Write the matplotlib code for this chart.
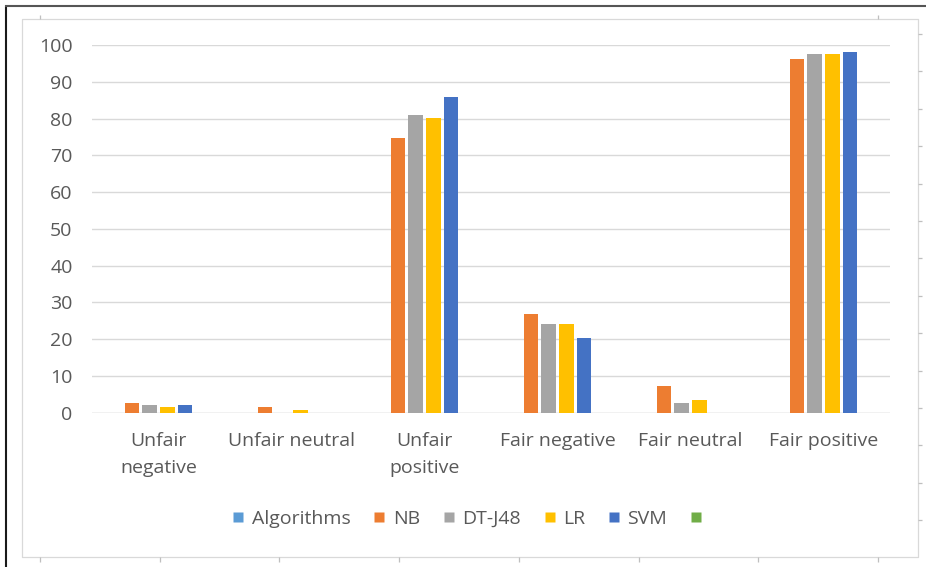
import matplotlib
matplotlib.use('Agg')
import matplotlib.pyplot as plt
from matplotlib.lines import Line2D
import numpy as np

plt.rcParams['font.family'] = ['Open Sans', 'DejaVu Sans']

categories = ['Unfair\nnegative', 'Unfair neutral', 'Unfair\npositive',
              'Fair negative', 'Fair neutral', 'Fair positive']
series_names = ['Algorithms', 'NB', 'DT-J48', 'LR', 'SVM', '']
algorithms = [0, 0, 0, 0, 0, 0]
nb = [2.6, 1.6, 74.7, 26.9, 7.2, 96.2]
dt_j48 = [2.1, 0, 80.9, 24.0, 2.6, 97.6]
lr = [1.55, 0.65, 80.2, 24.0, 3.5, 97.6]
svm = [2.1, 0, 85.9, 20.3, 0, 98.1]
blank = [0, 0, 0, 0, 0, 0]
colors = ['#5B9BD5', '#ED7D31', '#A5A5A5', '#FFC000', '#4472C4', '#70AD47']

W, H = 926, 567
fig = plt.figure(figsize=(W / 100, H / 100), dpi=100)


def fx(x):
    return x / W


def fy(y):
    return 1 - y / H


def fline(xs, ys, color, lw):
    fig.add_artist(Line2D([fx(v) for v in xs], [fy(v) for v in ys],
                          transform=fig.transFigure, color=color, lw=lw,
                          solid_capstyle='butt'))


# outer frame and chart area border
fline([5.5, 5.5], [5, 567], '#1a1a1a', 1.5)
fline([5, 926], [5.5, 5.5], '#555555', 1.5)
fline([22, 918, 918, 22, 22], [19, 19, 557, 557, 19], '#D9D9D9', 0.9)
for x in [40, 878]:
    fline([x, x], [15, 19], '#BFBFBF', 0.9)
for k in range(8):
    x = 40 + k * 119.7
    fline([x, x], [557, 562], '#BFBFBF', 0.9)
for k in range(14):
    y = 34 + k * 37.4
    fline([918, 922], [y, y], '#BFBFBF', 0.9)

ax = fig.add_axes([fx(92), fy(412.7), fx(890) - fx(92), fy(45) - fy(412.7)])

data = [algorithms, nb, dt_j48, lr, svm, blank]
x = np.arange(len(categories))
step = 0.132
bw = 0.11
for i, (vals, c) in enumerate(zip(data, colors)):
    ax.bar(x + (i - 2.5) * step, vals, width=bw, color=c, edgecolor='none',
           zorder=3)

ax.set_xlim(-0.5, len(categories) - 0.5)
ax.set_ylim(0, 100)
ax.set_yticks(range(0, 101, 10))
ax.yaxis.grid(True, color='#D9D9D9', lw=1.0, zorder=0)
ax.set_axisbelow(True)
for s in ax.spines.values():
    s.set_visible(False)
ax.axhline(0, color='#D9D9D9', lw=1.0, zorder=1)

ax.set_xticks(x)
ax.set_xticklabels(categories)
ax.tick_params(axis='both', length=0, labelsize=14, labelcolor='#595959')
ax.tick_params(axis='y', pad=14)
ax.tick_params(axis='x', pad=14)
for t in ax.get_xticklabels():
    t.set_linespacing(1.6)

handles = [Line2D([], [], marker='s', linestyle='none', markersize=7.5,
                  markerfacecolor=c, markeredgecolor='none') for c in colors]
fig.legend(handles, series_names, loc='center', ncol=6,
           bbox_to_anchor=(fx(471), fy(519)), frameon=False, fontsize=14,
           labelcolor='#595959', handletextpad=0.4, columnspacing=1.17,
           handlelength=0.6)

fig.savefig('out.png', dpi=100)
